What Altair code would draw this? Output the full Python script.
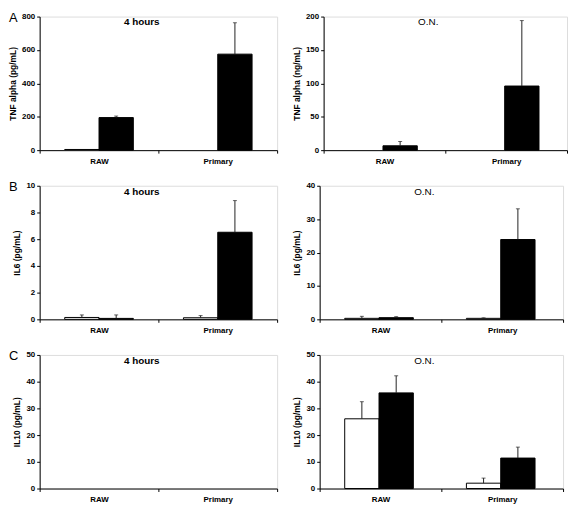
import altair as alt
import pandas as pd

FONT = "Liberation Sans, Arial, sans-serif"

cells = ["RAW", "Primary"]
groups = ["control", "stimulated"]
# order of values: RAW-control, RAW-stimulated, Primary-control, Primary-stimulated
tnf_4h_mean = [4, 195, 0, 575]
tnf_4h_err = [0, 9, 0, 188]
tnf_on_mean = [0, 6.5, 0, 96]
tnf_on_err = [0, 6.5, 0, 98]
il6_4h_mean = [0.14, 0.07, 0.12, 6.52]
il6_4h_err = [0.19, 0.26, 0.16, 2.37]
il6_on_mean = [0.3, 0.5, 0.3, 23.9]
il6_on_err = [0.6, 0.3, 0.15, 9.2]
il10_4h_mean = [0, 0, 0, 0]
il10_4h_err = [0, 0, 0, 0]
il10_on_mean = [26.1, 35.8, 2.0, 11.4]
il10_on_err = [6.4, 6.4, 1.9, 4.1]

tnf_4h_ticks = [0, 200, 400, 600, 800]
tnf_on_ticks = [0, 50, 100, 150, 200]
il6_4h_ticks = [0, 2, 4, 6, 8, 10]
il6_on_ticks = [0, 10, 20, 30, 40]
il10_ticks = [0, 10, 20, 30, 40, 50]

H = 135
W_LEFT = 240
W_RIGHT = 246

label_style = dict(labelFont=FONT, labelFontWeight="bold", labelFontSize=8,
                   labelColor="black", labelOverlap=False,
                   domainColor="black", tickColor="black", domainWidth=1, tickWidth=1,
                   grid=False)


def panel(means, errs, ticks, ytitle, label, bold, letter, width):
    rows = []
    i = 0
    for c in cells:
        for g in groups:
            rows.append({"cell": c, "group": g, "mean": means[i],
                         "top": means[i] + errs[i], "err": errs[i]})
            i += 1
    df = pd.DataFrame(rows)
    df_bar = df[df["mean"] > 0]
    df_err = df[df["err"] > 0]

    x = alt.X("cell:N", sort=cells,
              scale=alt.Scale(domain=cells, paddingInner=0, paddingOuter=0),
              axis=alt.Axis(title=None, tickBand="extent", labelAngle=0,
                            labelPadding=4, tickSize=3, **label_style))
    xo = alt.XOffset("group:N", sort=groups,
                     scale=alt.Scale(domain=groups, paddingInner=0, paddingOuter=0.73))
    yscale = alt.Scale(domain=[0, ticks[-1]], nice=False, zero=True)
    yaxis = alt.Axis(values=ticks, tickCount=len(ticks), title=ytitle, tickSize=3,
                     labelPadding=2, titlePadding=4,
                     titleFont=FONT, titleFontWeight="bold", titleFontSize=8.5,
                     titleColor="black", **label_style)

    base = alt.Chart(df_bar if len(df_bar) > 0 else df)
    bars = base.mark_bar(stroke="black", strokeWidth=1).encode(
        x=x, xOffset=xo, y=alt.Y("mean:Q", scale=yscale, axis=yaxis),
        fill=alt.Fill("group:N", scale=alt.Scale(domain=groups, range=["white", "black"]),
                      legend=None),
        opacity=alt.value(1 if len(df_bar) > 0 else 0),
    )
    layers = [bars]
    if len(df_err) > 0:
        rule = alt.Chart(df_err).mark_rule(color="#222", strokeWidth=1).encode(
            x=x, xOffset=xo, y=alt.Y("mean:Q", scale=yscale, axis=yaxis), y2="top:Q")
        cap = alt.Chart(df_err).mark_tick(color="#222", thickness=1, size=4,
                                          orient="horizontal").encode(
            x=x, xOffset=xo, y=alt.Y("top:Q", scale=yscale, axis=yaxis))
        layers += [rule, cap]
    title = alt.Chart(pd.DataFrame({"t": [label]})).mark_text(
        font=FONT, fontSize=10, fontWeight="bold" if bold else "normal",
        color="black", baseline="middle", align="center",
    ).encode(text="t:N", x=alt.value(width * 0.43), y=alt.value(6))
    layers.append(title)
    if letter:
        let = alt.Chart(pd.DataFrame({"t": [letter]})).mark_text(
            font=FONT, fontSize=13, color="black", baseline="top", align="left",
        ).encode(text="t:N", x=alt.value(-31), y=alt.value(-5))
        layers.append(let)
    return alt.layer(*layers).properties(width=width, height=H)


rowA = alt.hconcat(
    panel(tnf_4h_mean, tnf_4h_err, tnf_4h_ticks, "TNF alpha (pg/mL)", "4 hours", True, "A", W_LEFT),
    panel(tnf_on_mean, tnf_on_err, tnf_on_ticks, "TNF alpha (ng/mL)", "O.N.", False, None, W_RIGHT),
    spacing=14,
)
rowB = alt.hconcat(
    panel(il6_4h_mean, il6_4h_err, il6_4h_ticks, "IL6 (pg/mL)", "4 hours", True, "B", W_LEFT),
    panel(il6_on_mean, il6_on_err, il6_on_ticks, "IL6 (pg/mL)", "O.N.", False, None, W_RIGHT),
    spacing=14,
)
rowC = alt.hconcat(
    panel(il10_4h_mean, il10_4h_err, il10_ticks, "IL10 (pg/mL)", "4 hours", True, "C", W_LEFT),
    panel(il10_on_mean, il10_on_err, il10_ticks, "IL10 (pg/mL)", "O.N.", False, None, W_RIGHT),
    spacing=14,
)

chart = alt.vconcat(rowA, rowB, rowC, spacing=14).properties(
    padding={"left": 0, "top": 0, "right": 0, "bottom": 0}
).configure_view(stroke=None).configure(background="white")

chart.save("out.html", embed_options={"renderer": "svg", "actions": False})
